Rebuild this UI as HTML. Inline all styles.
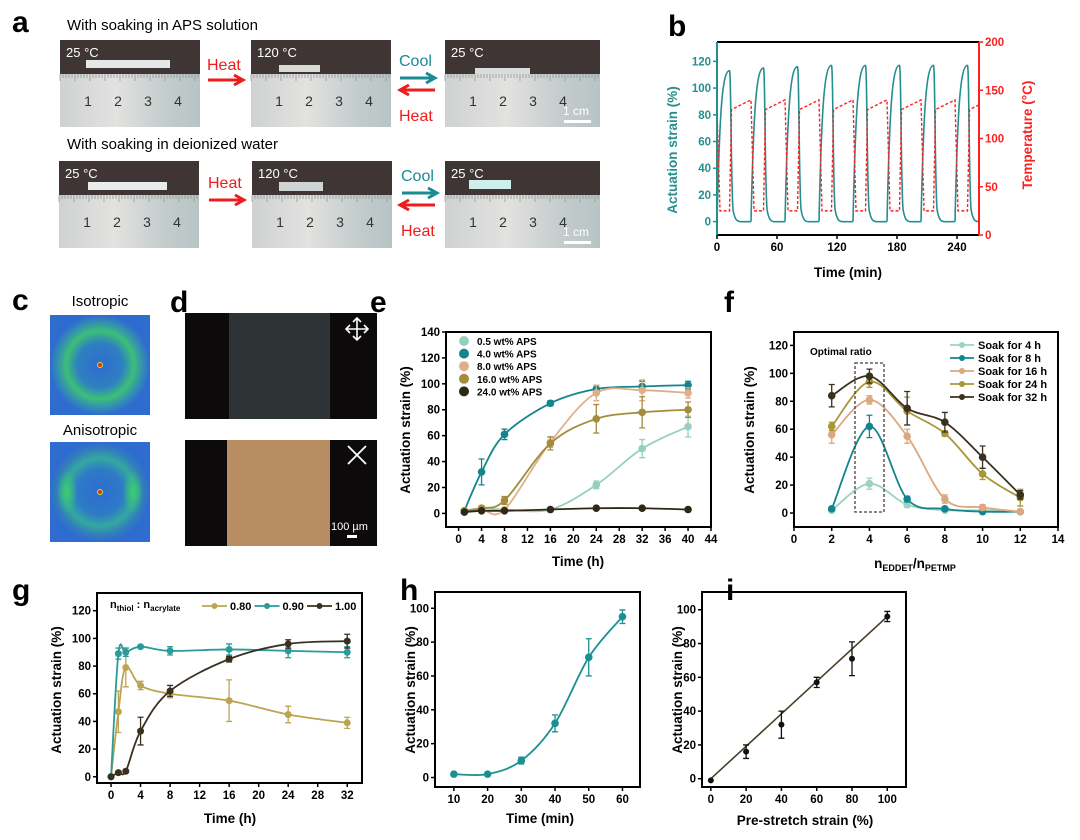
<!DOCTYPE html>
<html><head><meta charset="utf-8"><style>
html,body{margin:0;padding:0;background:#fff;}
svg{display:block;font-family:"Liberation Sans",Arial,sans-serif;}
.lt{font-weight:bold;font-size:30px;}
.tk{font-weight:bold;font-size:11.5px;}
.at{font-weight:bold;font-size:13.5px;}
</style></head><body>
<svg id="fig" width="1080" height="840" viewBox="0 0 1080 840" xmlns="http://www.w3.org/2000/svg">
<defs>
<linearGradient id="rul" x1="0" x2="1" y1="0" y2="0"><stop offset="0" stop-color="#cfd2d2"/><stop offset="0.4" stop-color="#e2e2e0"/><stop offset="0.75" stop-color="#c4cccc"/><stop offset="1" stop-color="#b8c4c4"/></linearGradient>
<radialGradient id="iso" cx="0.5" cy="0.5" r="0.5"><stop offset="0" stop-color="#2e6cd0"/><stop offset="0.45" stop-color="#2e80c0"/><stop offset="0.68" stop-color="#3cbf78"/><stop offset="0.85" stop-color="#3490b0"/><stop offset="1" stop-color="#2e6cd0"/></radialGradient>
<radialGradient id="aniso" cx="0.5" cy="0.5" r="0.5"><stop offset="0" stop-color="#2e6cd0"/><stop offset="0.45" stop-color="#2e7ac6"/><stop offset="0.68" stop-color="#34a8a0"/><stop offset="0.85" stop-color="#3280b8"/><stop offset="1" stop-color="#2e6cd0"/></radialGradient>
<radialGradient id="blob"><stop offset="0" stop-color="#3ccc6c"/><stop offset="1" stop-color="#3ccc6c" stop-opacity="0"/></radialGradient>
<clipPath id="clipB"><rect x="717" y="42" width="262" height="193"/></clipPath>
</defs>

<!-- panel a -->
<g>
<text class="lt" x="12" y="32">a</text>
<text x="67" y="30" font-size="15">With soaking in  APS solution</text>
<text x="67" y="149" font-size="15">With soaking in deionized water</text>
<g id="photos"></g>
<text x="207" y="70" font-size="16" fill="#ee1c1c">Heat</text>
<path d="M208,80 H240 M234,75 L243,80 L234,85" stroke="#ee1c1c" stroke-width="3" fill="none"/>
<text x="399" y="66" font-size="16" fill="#1b8a94">Cool</text>
<path d="M400,78 H432 M426,73 L435,78 L426,83" stroke="#1b8a94" stroke-width="3" fill="none"/>
<path d="M435,90 H403 M409,85 L400,90 L409,95" stroke="#ee1c1c" stroke-width="3" fill="none"/>
<text x="399" y="121" font-size="16" fill="#ee1c1c">Heat</text>
<text x="208" y="188" font-size="16" fill="#ee1c1c">Heat</text>
<path d="M209,200 H241 M235,195 L244,200 L235,205" stroke="#ee1c1c" stroke-width="3" fill="none"/>
<text x="401" y="181" font-size="16" fill="#1b8a94">Cool</text>
<path d="M402,193 H434 M428,188 L437,193 L428,198" stroke="#1b8a94" stroke-width="3" fill="none"/>
<path d="M435,205 H403 M409,200 L400,205 L409,210" stroke="#ee1c1c" stroke-width="3" fill="none"/>
<text x="401" y="236" font-size="16" fill="#ee1c1c">Heat</text>
</g>

<!-- panel c -->
<g>
<text class="lt" x="12" y="310">c</text>
<text x="100" y="306" font-size="15" text-anchor="middle">Isotropic</text>
<rect x="50" y="315" width="100" height="100" fill="url(#iso)"/>
<circle cx="100" cy="365" r="2.5" fill="#e03020" stroke="#d0e020" stroke-width="1"/>
<text x="100" y="435" font-size="15" text-anchor="middle">Anisotropic</text>
<rect x="50" y="442" width="100" height="100" fill="url(#aniso)"/>
<ellipse cx="67" cy="492" rx="10" ry="22" fill="url(#blob)"/>
<ellipse cx="133" cy="492" rx="10" ry="22" fill="url(#blob)"/>
<circle cx="100" cy="492" r="2.5" fill="#e03020" stroke="#d0e020" stroke-width="1"/>
</g>

<!-- panel d -->
<g>
<text class="lt" x="170" y="312">d</text>
<rect x="185" y="313" width="192" height="106" fill="#0c0a0a"/>
<rect x="229" y="313" width="101" height="106" fill="#2c3436"/>
<path d="M357,318 V340 M346,329 H368 M353,322 L357,318 L361,322 M353,336 L357,340 L361,336 M350,325 L346,329 L350,333 M364,325 L368,329 L364,333" stroke="#fff" stroke-width="1.6" fill="none"/>
<rect x="185" y="440" width="192" height="106" fill="#0c0a0a"/>
<rect x="227" y="440" width="103" height="106" fill="#b98d62"/>
<path d="M348,446 L366,464 M366,446 L348,464" stroke="#fff" stroke-width="1.8"/>
<text x="331" y="530" font-size="11" fill="#fff">100 µm</text>
<rect x="347" y="535" width="10" height="3" fill="#fff"/>
</g>

<g id="charts"></g>
</svg>
<script>
// ---------- panel b data ----------
const bCycleStart = [0, 34, 68, 102, 136, 170, 204, 238];
const bStrainPeak = [113, 115, 116, 117, 117, 117, 117, 117];
const bTempLow = [25, 25, 25, 25, 25, 25, 25, 25];
const bTempHighStart = [130, 130, 130, 130, 130, 130, 130, 130];
const bTempHighEnd = [140, 140, 140, 140, 140, 140, 140, 140];
const bXTicks = [0, 60, 120, 180, 240];
const bYTicks = [0, 20, 40, 60, 80, 100, 120];
const bY2Ticks = [0, 50, 100, 150, 200];
// ---------- panel e data ----------
const eX = [1, 4, 8, 16, 24, 32, 40];
const eSeriesNames = ["0.5 wt% APS", "4.0 wt% APS", "8.0 wt% APS", "16.0 wt% APS", "24.0 wt% APS"];
const eS05 = [2, 4, 3, 3, 22, 50, 67];
const eS4 = [2, 32, 61, 85, 96, 98, 99];
const eS8 = [2, 3, 3, 55, 93, 95, 93];
const eS16 = [2, 4, 10, 54, 73, 78, 80];
const eS24 = [1, 2, 2, 3, 4, 4, 3];
const eE05 = [1, 2, 1, 1, 3, 7, 8];
const eE4 = [1, 10, 4, 2, 3, 4, 3];
const eE8 = [1, 1, 1, 4, 6, 8, 4];
const eE16 = [1, 1, 3, 5, 11, 12, 6];
const eE24 = [0.5, 0.5, 0.5, 0.5, 0.5, 0.5, 0.5];
const eXTicks = [0, 4, 8, 12, 16, 20, 24, 28, 32, 36, 40, 44];
const eYTicks = [0, 20, 40, 60, 80, 100, 120, 140];
// ---------- panel f data ----------
const fX = [2, 4, 6, 8, 10, 12];
const fSeriesNames = ["Soak for 4 h", "Soak for 8 h", "Soak for 16 h", "Soak for 24 h", "Soak for 32 h"];
const fS4 = [2, 21, 6, 2, 2, 1];
const fS8 = [3, 62, 10, 3, 1, 1];
const fS16 = [56, 81, 55, 10, 4, 1];
const fS24 = [62, 94, 73, 57, 28, 11];
const fS32 = [84, 98, 75, 65, 40, 13];
const fE4 = [1, 4, 2, 1, 1, 1];
const fE8 = [1, 8, 2, 1, 1, 1];
const fE16 = [6, 3, 5, 3, 2, 1];
const fE24 = [3, 4, 10, 2, 4, 6];
const fE32 = [8, 5, 12, 7, 8, 3];
const fXTicks = [0, 2, 4, 6, 8, 10, 12, 14];
const fYTicks = [0, 20, 40, 60, 80, 100, 120];
// ---------- panel g data ----------
const gX = [0, 1, 2, 4, 8, 16, 24, 32];
const gSeriesNames = ["0.80", "0.90", "1.00"];
const gS080 = [0, 47, 79, 66, 60, 55, 45, 39];
const gS090 = [0, 89, 90, 94, 91, 92, 91, 90];
const gS100 = [0, 3, 4, 33, 62, 85, 96, 98];
const gE080 = [0, 15, 14, 3, 3, 15, 6, 4];
const gE090 = [0, 4, 3, 1, 3, 4, 5, 4];
const gE100 = [0, 1, 1, 10, 4, 2, 3, 5];
const gXTicks = [0, 4, 8, 12, 16, 20, 24, 28, 32];
const gYTicks = [0, 20, 40, 60, 80, 100, 120];
// ---------- panel h data ----------
const hX = [10, 20, 30, 40, 50, 60];
const hS = [2, 2, 10, 32, 71, 95];
const hE = [1, 1, 2, 5, 11, 4];
const hXTicks = [10, 20, 30, 40, 50, 60];
const hYTicks = [0, 20, 40, 60, 80, 100];
// ---------- panel i data ----------
const iX = [0, 20, 40, 60, 80, 100];
const iS = [-1, 16, 32, 57, 71, 96];
const iE = [0, 4, 8, 3, 10, 3];
const iFitX = [0, 100];
const iFitY = [0, 96];
const iXTicks = [0, 20, 40, 60, 80, 100];
const iYTicks = [0, 20, 40, 60, 80, 100];

const NS = "http://www.w3.org/2000/svg";
const root = document.getElementById('charts');
function mk(tag, attrs, parent) {
  const e = document.createElementNS(NS, tag);
  for (const k in attrs) e.setAttribute(k, attrs[k]);
  (parent || root).appendChild(e);
  return e;
}
function axes(x0, x1, y0, y1, L, R, T, B) {
  return { x: v => L + (v - x0) / (x1 - x0) * (R - L), y: v => B - (v - y0) / (y1 - y0) * (B - T), L, R, T, B };
}
function smooth(pts) {
  let d = `M${pts[0][0]},${pts[0][1]}`;
  for (let i = 0; i < pts.length - 1; i++) {
    const p0 = pts[i - 1] || pts[i], p1 = pts[i], p2 = pts[i + 1], p3 = pts[i + 2] || pts[i + 1];
    const c1 = [p1[0] + (p2[0] - p0[0]) / 6, p1[1] + (p2[1] - p0[1]) / 6];
    const c2 = [p2[0] - (p3[0] - p1[0]) / 6, p2[1] - (p3[1] - p1[1]) / 6];
    d += ` C${c1[0]},${c1[1]} ${c2[0]},${c2[1]} ${p2[0]},${p2[1]}`;
  }
  return d;
}
function frame(ax, name) {
  const r = mk('rect', { x: ax.L, y: ax.T, width: ax.R - ax.L, height: ax.B - ax.T, fill: 'none', stroke: '#000', 'stroke-width': 2 });
  
  
}
function xTicks(ax, ticks, name, color) {
  ticks.forEach((t, i) => {
    const px = ax.x(t);
    const l = mk('line', { x1: px, x2: px, y1: ax.B, y2: ax.B + 4, stroke: color || '#000', 'stroke-width': 1.5 });
    
    
    const tx = mk('text', { x: px, y: ax.B + 16, 'text-anchor': 'middle', class: 'tk' });
    tx.textContent = t;
    
    
  });
}
function yTicks(ax, ticks, name, color, right, fn) {
  ticks.forEach(t => {
    const py = fn ? fn(t) : ax.y(t);
    const xx = right ? ax.R : ax.L;
    const l = mk('line', { x1: xx, x2: right ? xx + 4 : xx - 4, y1: py, y2: py, stroke: color || '#000', 'stroke-width': 1.5 });
    
    
    const tx = mk('text', { x: right ? xx + 6 : xx - 6, y: py + 4, 'text-anchor': right ? 'start' : 'end', class: 'tk', fill: color || '#000' });
    tx.textContent = t;
    
    
  });
}
function label(x, y, txt, name, opts) {
  const t = mk('text', Object.assign({ x, y, class: 'at', 'text-anchor': 'middle' }, opts || {}));
  t.textContent = txt;
  
  
  return t;
}
function series(ax, xs, ys, es, color, name, curve, marker) {
  const pts = xs.map((x, i) => [ax.x(x), ax.y(ys[i])]);
  if (curve) {
    const p = mk('path', { d: curve === 'line' ? 'M' + pts.map(p => p.join(',')).join(' L') : smooth(pts), fill: 'none', stroke: color, 'stroke-width': 1.8 });
    
    
  }
  xs.forEach((x, i) => {
    if (es && es[i] > 0) {
      const px = ax.x(x), a = ax.y(ys[i] + es[i]), b = ax.y(ys[i] - es[i]);
      const eb = mk('path', { d: `M${px},${a} V${b} M${px - 3},${a} H${px + 3} M${px - 3},${b} H${px + 3}`, stroke: color, 'stroke-width': 1.3, fill: 'none' });
      
      
    }
    const c = mk('circle', { cx: ax.x(x), cy: ax.y(ys[i]), r: marker || 3.5, fill: color });
    
    
  });
}
function panelLetter(x, y, t) {
  const e = mk('text', { x, y, class: 'lt' });
  e.textContent = t;
  
  
}

// ---------- photos panel a ----------
(function () {
  const g = document.getElementById('photos');
  const photos = [
    [60, 40, 140, '25 °C', 86, 60, 84, 8, '#e4e8e8'], [251, 40, 140, '120 °C', 279, 65, 41, 7, '#d8dcd4'], [445, 40, 155, '25 °C', 475, 68, 55, 6, '#d8dcdc'],
    [59, 161, 140, '25 °C', 88, 182, 79, 8, '#e8ecec'], [252, 161, 140, '120 °C', 279, 182, 44, 9, '#d0d4d4'], [445, 161, 155, '25 °C', 469, 180, 42, 9, '#cfeeee']];
  photos.forEach((p, k) => {
    const r = mk('rect', { x: p[0], y: p[1], width: p[2], height: 87, fill: 'url(#rul)' }, g);
    
    
    const top = mk('rect', { x: p[0], y: p[1], width: p[2], height: 34, fill: '#403535' }, g);
    
    
    const s = mk('rect', { x: p[4], y: p[5], width: p[6], height: p[7], fill: p[8] }, g);
    
    
    const tl = mk('text', { x: p[0] + 6, y: p[1] + 17, 'font-size': 13, fill: '#fff' }, g);
    tl.textContent = p[3];
    
    
    let d = '';
    for (let i = 0; i < p[2]; i += 3) d += `M${p[0] + i},${p[1] + 34} v${i % 15 === 0 ? 7 : 4} `;
    const tk = mk('path', { d, stroke: '#8a8e8e', 'stroke-width': 0.7 }, g);
    
    
    [1, 2, 3, 4].forEach((n, j) => {
      if (p[0] + 28 + j * 30 > p[0] + p[2] - 5) return;
      const t = mk('text', { x: p[0] + 28 + j * 30, y: p[1] + 66, 'font-size': 14, fill: '#333', 'text-anchor': 'middle' }, g);
      t.textContent = n;
      
      
    });
    if (p[0] > 400) {
      const t = mk('text', { x: 563, y: p[1] + 75, 'font-size': 12, fill: '#fff' }, g);
      t.textContent = '1 cm';
      
      
      const b = mk('rect', { x: 564, y: p[1] + 80, width: 27, height: 3, fill: '#fff' }, g);
      
      
    }
  });
})();

// ---------- panel b ----------
panelLetter(668, 36, 'b');
const bA = axes(0, 262, -10, 134.5, 717, 979, 42, 235);
const bT = v => 235 - v / 200 * 193;
(function () {
  const g = mk('g', { 'clip-path': 'url(#clipB)' });
  
  
  let d = '';
  bCycleStart.forEach((c, i) => {
    const P = bStrainPeak[i], x = bA.x, y = bA.y;
    d += `M${x(c)},${y(0)} C${x(c + 2.5)},${y(P * 0.7)} ${x(c + 5)},${y(P)} ${x(c + 12.5)},${y(P)} C${x(c + 14)},${y(P)} ${x(c + 14)},${y(P * 0.25)} ${x(c + 16)},${y(P * 0.08)} C${x(c + 18)},${y(0)} ${x(c + 21)},${y(0)} ${x(c + 24)},${y(0)} L${x(c + 34)},${y(0)} `;
  });
  const s = mk('path', { d, fill: 'none', stroke: '#258f8f', 'stroke-width': 1.6 }, g);
  
  
  let td = '';
  bCycleStart.forEach((c, i) => {
    const x = bA.x;
    const startT = i === 0 ? bTempHighStart[0] : bTempHighEnd[i - 1];
    td += `${i === 0 ? 'M' : 'L'}${x(c)},${bT(startT)} L${x(c + 3)},${bT(bTempLow[i])} L${x(c + 12.5)},${bT(bTempLow[i])} L${x(c + 14.5)},${bT(bTempHighStart[i])} L${x(c + 34)},${bT(bTempHighEnd[i])} `;
  });
  const t = mk('path', { d: td, fill: 'none', stroke: '#ff2020', 'stroke-width': 1.4, 'stroke-dasharray': '3,2' }, g);
  
  
})();
(function () {
  const top = mk('line', { x1: 717, x2: 979, y1: 42, y2: 42, stroke: '#000', 'stroke-width': 2 });
  
  
  const bot = mk('line', { x1: 717, x2: 979, y1: 235, y2: 235, stroke: '#000', 'stroke-width': 2 });
  
  
  const l = mk('line', { x1: 717, x2: 717, y1: 42, y2: 235, stroke: '#258f8f', 'stroke-width': 2 });
  
  
  const r = mk('line', { x1: 979, x2: 979, y1: 42, y2: 235, stroke: '#ff2020', 'stroke-width': 2 });
  
  
})();
xTicks(bA, bXTicks, 'b');
yTicks(bA, bYTicks, 'b', '#258f8f');
yTicks(bA, bY2Ticks, 'b-temp', '#ff2020', true, bT);
label(848, 277, 'Time (min)', 'b-x-axis-title');
label(0, 0, 'Actuation strain (%)', 'b-y-axis-title', { fill: '#258f8f', transform: 'translate(677,150) rotate(-90)' });
label(0, 0, 'Temperature (°C)', 'b-y2-axis-title', { fill: '#ff2020', transform: 'translate(1032,135) rotate(-90)' });

// ---------- panel e ----------
panelLetter(370, 312, 'e');
const eA = axes(-2.2, 44, -10.5, 140, 446, 711, 332, 527);
frame(eA, 'e');
xTicks(eA, eXTicks, 'e');
yTicks(eA, eYTicks, 'e');
const eColors = ['#96d0bd', '#13858e', '#ddb08a', '#a48c3e', '#2e2816'];
[[eS05, eE05], [eS4, eE4], [eS8, eE8], [eS16, eE16], [eS24, eE24]].forEach((s, i) => series(eA, eX, s[0], s[1], eColors[i], 'e-series-' + i, 'smooth', 3.8));
eSeriesNames.forEach((n, i) => {
  const c = mk('circle', { cx: 464, cy: 341 + i * 12.6, r: 5, fill: eColors[i] });
  
  
  const t = mk('text', { x: 477, y: 345 + i * 12.6, 'font-size': 10, 'font-weight': 'bold' });
  t.textContent = n;
  
  
});
label(578, 566, 'Time (h)', 'e-x-axis-title');
label(0, 0, 'Actuation strain (%)', 'e-y-axis-title', { transform: 'translate(410,430) rotate(-90)' });

// ---------- panel f ----------
panelLetter(724, 312, 'f');
const fA = axes(0, 14, -10, 129.6, 794, 1058, 332, 527);
frame(fA, 'f');
xTicks(fA, fXTicks, 'f');
yTicks(fA, fYTicks, 'f');
const fColors = ['#9bd2c0', '#13858e', '#dba880', '#a89638', '#3a3020'];
[[fS4, fE4], [fS8, fE8], [fS16, fE16], [fS24, fE24], [fS32, fE32]].forEach((s, i) => series(fA, fX, s[0], s[1], fColors[i], 'f-series-' + i, 'smooth', 3.8));
(function () {
  const b = mk('rect', { x: 855, y: 363, width: 29, height: 149, fill: 'none', stroke: '#4a4030', 'stroke-width': 1.3, 'stroke-dasharray': '3,2' });
  
  
  const t = mk('text', { x: 810, y: 355, 'font-size': 10, 'font-weight': 'bold' });
  t.textContent = 'Optimal ratio';
  
  
})();
fSeriesNames.forEach((n, i) => {
  const l = mk('line', { x1: 950, x2: 974, y1: 345 + i * 13, y2: 345 + i * 13, stroke: fColors[i], 'stroke-width': 1.8 });
  
  
  const c = mk('circle', { cx: 962, cy: 345 + i * 13, r: 3, fill: fColors[i] });
  
  
  const t = mk('text', { x: 978, y: 349 + i * 13, 'font-size': 11, 'font-weight': 'bold' });
  t.textContent = n;
  
  
});
(function () {
  const t = mk('text', { x: 915, y: 568, 'font-size': 13.5, 'font-weight': 'bold', 'text-anchor': 'middle' });
  t.innerHTML = 'n<tspan font-size="9" dy="3">EDDET</tspan><tspan dy="-3">/n</tspan><tspan font-size="9" dy="3">PETMP</tspan>';
  
  
})();
label(0, 0, 'Actuation strain (%)', 'f-y-axis-title', { transform: 'translate(754,430) rotate(-90)' });

// ---------- panel g ----------
panelLetter(12, 600, 'g');
const gA = axes(-1.9, 34, -4.5, 132.8, 97, 362, 593, 783);
frame(gA, 'g');
xTicks(gA, gXTicks, 'g');
yTicks(gA, gYTicks, 'g');
const gColors = ['#bda453', '#2a9a9a', '#3a3020'];
[[gS080, gE080], [gS090, gE090], [gS100, gE100]].forEach((s, i) => series(gA, gX, s[0], s[1], gColors[i], 'g-series-' + i, 'smooth', 3.5));
(function () {
  const t = mk('text', { x: 110, y: 608, 'font-size': 11, 'font-weight': 'bold' });
  t.innerHTML = 'n<tspan font-size="8" dy="3">thiol</tspan><tspan dy="-3"> : n</tspan><tspan font-size="8" dy="3">acrylate</tspan>';
  
  
})();
gSeriesNames.forEach((n, i) => {
  const x0 = 202 + i * 52.5;
  const l = mk('line', { x1: x0, x2: x0 + 25, y1: 606, y2: 606, stroke: gColors[i], 'stroke-width': 1.8 });
  
  
  const c = mk('circle', { cx: x0 + 12.5, cy: 606, r: 3, fill: gColors[i] });
  
  
  const t = mk('text', { x: x0 + 28, y: 610, 'font-size': 11, 'font-weight': 'bold' });
  t.textContent = n;
  
  
});
label(230, 823, 'Time (h)', 'g-x-axis-title');
label(0, 0, 'Actuation strain (%)', 'g-y-axis-title', { transform: 'translate(61,690) rotate(-90)' });

// ---------- panel h ----------
panelLetter(400, 600, 'h');
const hA = axes(4.4, 65.2, -5.6, 109.6, 435, 640, 592, 787);
frame(hA, 'h');
xTicks(hA, hXTicks, 'h');
yTicks(hA, hYTicks, 'h');
series(hA, hX, hS, hE, '#1b9090', 'h-series', 'smooth', 3.8);
label(540, 823, 'Time (min)', 'h-x-axis-title');
label(0, 0, 'Actuation strain (%)', 'h-y-axis-title', { transform: 'translate(415,690) rotate(-90)' });

// ---------- panel i ----------
panelLetter(726, 600, 'i');
const iA = axes(-5, 110.6, -4.9, 110.5, 702, 906, 592, 787);
frame(iA, 'i');
xTicks(iA, iXTicks, 'i');
yTicks(iA, iYTicks, 'i');
(function () {
  const l = mk('line', { x1: iA.x(iFitX[0]), y1: iA.y(iFitY[0]), x2: iA.x(iFitX[1]), y2: iA.y(iFitY[1]), stroke: '#4a4028', 'stroke-width': 1.6 });
  
  
})();
series(iA, iX, iS, iE, '#111', 'i-series', null, 3);
label(805, 825, 'Pre-stretch strain (%)', 'i-x-axis-title');
label(0, 0, 'Actuation strain (%)', 'i-y-axis-title', { transform: 'translate(682,690) rotate(-90)' });
</script>
</body></html>
